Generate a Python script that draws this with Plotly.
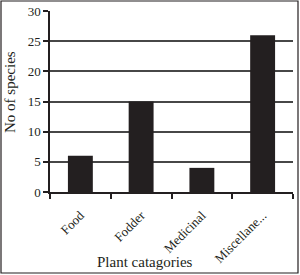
import plotly.graph_objects as go

categories = ["Food", "Fodder", "Medicinal", "Miscellane..."]
species_counts = [6, 15, 4, 26]
y_ticks = [0, 5, 10, 15, 20, 25, 30]

L, R, T, B = 50, 7, 11, 83
W, H = 300, 275
pw, ph = W - L - R, H - T - B

def px_to_paper_x(px):
    return (px - L) / pw

def px_to_paper_y(py):
    return (H - B - py) / ph

fig = go.Figure(go.Bar(x=categories, y=species_counts, marker=dict(color="#231f20", line=dict(width=0)), width=0.41))

font = dict(family="Liberation Serif", size=13, color="#231f20")
fig.update_layout(
    width=W, height=H, margin=dict(l=L, r=R, t=T, b=B, autoexpand=False),
    paper_bgcolor="white", plot_bgcolor="white", showlegend=False,
    font=font,
    xaxis=dict(type="category", tickson="boundaries", ticks="outside", ticklen=5,
               tickcolor="#231f20", tickwidth=1.5, showline=True, linecolor="#231f20", linewidth=1.5,
               tickangle=-45, showgrid=False, tickfont=font, ticklabelstandoff=9, automargin=False),
    yaxis=dict(range=[0, 30], tickvals=y_ticks, ticks="outside", ticklen=5, tickcolor="#231f20",
               tickwidth=1.5, showline=True, linecolor="#231f20", linewidth=1.5, automargin=False,
               showgrid=True, gridcolor="#474747", gridwidth=1.8, zeroline=False, tickfont=font),
)
fig.add_annotation(text="Plant catagories", xref="paper", yref="paper",
                   x=px_to_paper_x(145), y=px_to_paper_y(262), showarrow=False,
                   xanchor="center", yanchor="middle", font=dict(family="Liberation Serif", size=15, color="#231f20"))
fig.add_annotation(text="No of species", xref="paper", yref="paper",
                   x=px_to_paper_x(10), y=px_to_paper_y(92), showarrow=False, textangle=-90,
                   xanchor="center", yanchor="middle", font=dict(family="Liberation Serif", size=15, color="#231f20"))
fig.add_shape(type="rect", xref="paper", yref="paper",
              x0=px_to_paper_x(1), x1=px_to_paper_x(298), y0=px_to_paper_y(273), y1=px_to_paper_y(1),
              line=dict(color="#231f20", width=1.2))
fig.write_html("out.html")
